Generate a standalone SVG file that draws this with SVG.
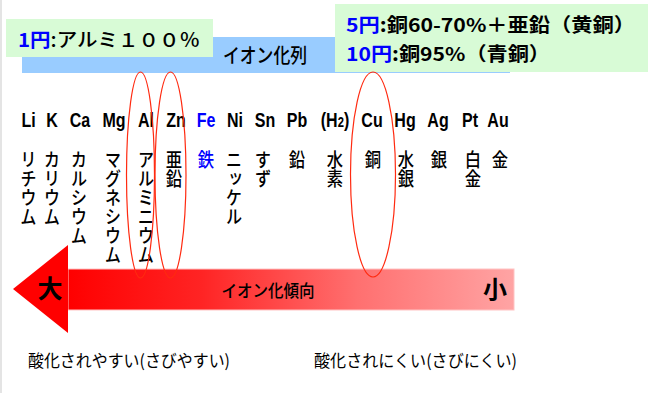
<svg xmlns="http://www.w3.org/2000/svg" width="656" height="393" viewBox="0 0 656 393">
<defs>
<linearGradient id="shaft" x1="68" y1="0" x2="514" y2="0" gradientUnits="userSpaceOnUse">
<stop offset="0" stop-color="#ff0000"/>
<stop offset="0.3" stop-color="#ff2424"/>
<stop offset="0.65" stop-color="#ff7070"/>
<stop offset="1" stop-color="#ffa4a4"/>
</linearGradient>
</defs>
<style>
.sym{font-family:"Liberation Sans",Arial,sans-serif;font-weight:bold;font-size:20px;fill:#000;text-anchor:middle}
.nm{font-family:"Noto Sans CJK JP",sans-serif;font-size:19px;font-weight:500;fill:#000;writing-mode:vertical-rl}
.jp{font-family:"Noto Sans CJK JP",sans-serif;fill:#000}
.hl{fill:none;stroke:#ff2a10;stroke-width:1.2}
.blue{fill:#0000ff}
</style>
<rect width="656" height="393" fill="#ffffff"/>
<rect x="0" y="0" width="2" height="393" fill="#e4e4e4"/>

<g id="ion-series-bar">
<rect x="22" y="37" width="488" height="36" fill="#99ccff"/>
<text class="jp" x="265" y="63" font-size="20" font-weight="500" text-anchor="middle" textLength="84" lengthAdjust="spacingAndGlyphs">イオン化列</text>
</g>

<g id="note-1yen">
<rect x="6" y="19" width="207" height="38" fill="#d8fbd6"/>
<text class="jp" x="18" y="47" font-size="19" font-weight="500" textLength="182" lengthAdjust="spacingAndGlyphs"><tspan class="blue" font-weight="bold">1円</tspan>:アルミ１００％</text>
</g>

<g id="note-5-10yen">
<rect x="335" y="4" width="313" height="68" fill="#d8fbd6"/>
<text class="jp" x="346" y="32" font-size="19" font-weight="bold" textLength="289" lengthAdjust="spacingAndGlyphs"><tspan class="blue">5円</tspan>:銅60-70%＋亜鉛（黄銅）</text>
<text class="jp" x="346" y="61" font-size="19" font-weight="bold" textLength="204" lengthAdjust="spacingAndGlyphs"><tspan class="blue">10円</tspan>:銅95%（青銅）</text>
</g>

<g id="elements">
<g id="el-Li"><text class="sym" transform="translate(28.5,127) scale(0.8,1)">Li</text><text class="nm" transform="translate(28.5,150) scale(0.86,1)">リチウム</text></g>
<g id="el-K"><text class="sym" transform="translate(52,127) scale(0.8,1)">K</text><text class="nm" transform="translate(52,150) scale(0.86,1)">カリウム</text></g>
<g id="el-Ca"><text class="sym" transform="translate(80,127) scale(0.8,1)">Ca</text><text class="nm" transform="translate(79,150) scale(0.86,1)">カルシウム</text></g>
<g id="el-Mg"><text class="sym" transform="translate(114,127) scale(0.8,1)">Mg</text><text class="nm" transform="translate(113,150) scale(0.86,1)">マグネシウム</text></g>
<g id="el-Al"><text class="sym" transform="translate(146,127) scale(0.8,1)">Al</text><text class="nm" transform="translate(146,150) scale(0.86,1)">アルミニウム</text></g>
<g id="el-Zn"><text class="sym" transform="translate(176,127) scale(0.8,1)">Zn</text><text class="nm" transform="translate(174,150) scale(0.86,1)">亜鉛</text></g>
<g id="el-Fe"><text class="sym blue" transform="translate(206,127) scale(0.8,1)">Fe</text><text class="nm blue" transform="translate(206,150) scale(0.86,1)">鉄</text></g>
<g id="el-Ni"><text class="sym" transform="translate(235,127) scale(0.8,1)">Ni</text><text class="nm" transform="translate(234,150) scale(0.86,1)">ニッケル</text></g>
<g id="el-Sn"><text class="sym" transform="translate(265,127) scale(0.8,1)">Sn</text><text class="nm" transform="translate(263,150) scale(0.86,1)">すず</text></g>
<g id="el-Pb"><text class="sym" transform="translate(297,127) scale(0.8,1)">Pb</text><text class="nm" transform="translate(297,150) scale(0.86,1)">鉛</text></g>
<g id="el-H2"><text class="sym" transform="translate(335,127) scale(0.8,1)">(H<tspan font-size="14">2</tspan>)</text><text class="nm" transform="translate(335,150) scale(0.86,1)">水素</text></g>
<g id="el-Cu"><text class="sym" transform="translate(372,127) scale(0.8,1)">Cu</text><text class="nm" transform="translate(373,150) scale(0.86,1)">銅</text></g>
<g id="el-Hg"><text class="sym" transform="translate(405,127) scale(0.8,1)">Hg</text><text class="nm" transform="translate(406,150) scale(0.86,1)">水銀</text></g>
<g id="el-Ag"><text class="sym" transform="translate(438,127) scale(0.8,1)">Ag</text><text class="nm" transform="translate(439,150) scale(0.86,1)">銀</text></g>
<g id="el-Pt"><text class="sym" transform="translate(470,127) scale(0.8,1)">Pt</text><text class="nm" transform="translate(473,150) scale(0.86,1)">白金</text></g>
<g id="el-Au"><text class="sym" transform="translate(498,127) scale(0.8,1)">Au</text><text class="nm" transform="translate(500,150) scale(0.86,1)">金</text></g>
</g>

<g id="tendency-arrow">
<rect x="68" y="269" width="446" height="41" fill="url(#shaft)" stroke="#ffc4c4" stroke-width="1"/>
<polygon points="13,289 68,245 68,333" fill="#ff0000"/>
<text class="jp" x="50" y="298" font-size="25" font-weight="bold" text-anchor="middle">大</text>
<text class="jp" x="495" y="298" font-size="24" font-weight="bold" text-anchor="middle">小</text>
<text class="jp" x="268" y="297" font-size="17" font-weight="500" text-anchor="middle" textLength="93" lengthAdjust="spacingAndGlyphs">イオン化傾向</text>
</g>

<g id="connectors">
<ellipse class="hl" cx="140.5" cy="175" rx="14" ry="103"/>
<ellipse class="hl" cx="170.5" cy="175" rx="15.5" ry="103"/>
<ellipse class="hl" cx="373" cy="174.5" rx="22.5" ry="102.5"/>
</g>

<g id="labels-bottom">
<text class="jp" x="28" y="367" font-size="17" textLength="202" lengthAdjust="spacingAndGlyphs">酸化されやすい(さびやすい)</text>
<text class="jp" x="314" y="367" font-size="17" textLength="203" lengthAdjust="spacingAndGlyphs">酸化されにくい(さびにくい)</text>
</g>
</svg>
